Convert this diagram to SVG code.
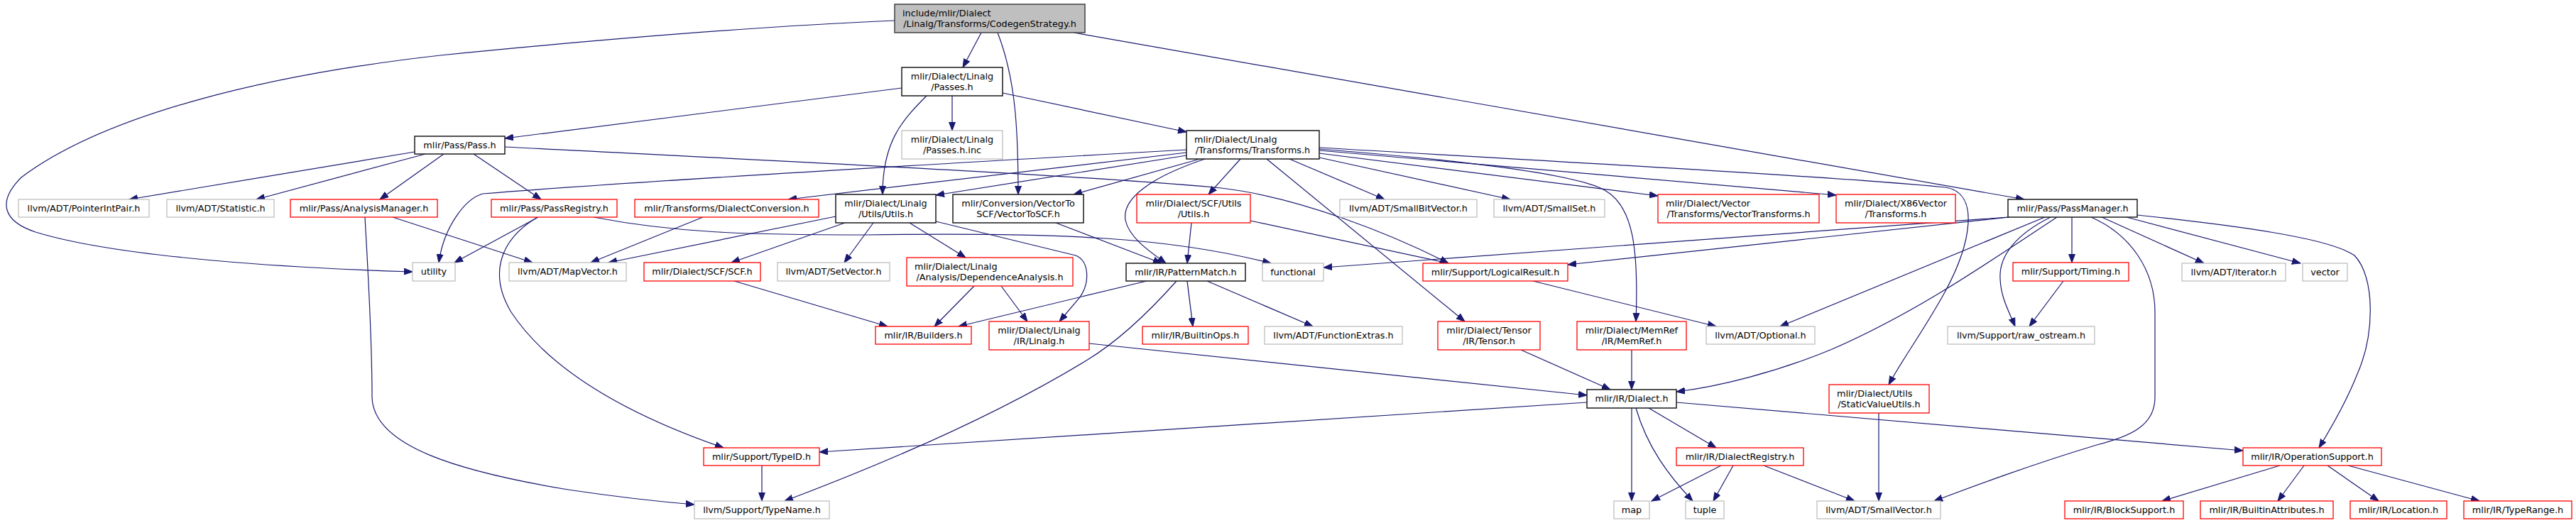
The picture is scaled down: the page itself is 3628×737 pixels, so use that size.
<svg xmlns="http://www.w3.org/2000/svg" width="3628" height="737" viewBox="0 0 3628 737">
<style>
rect{fill:#fff;stroke-width:1.3}
.root rect{fill:#bfbfbf;stroke:#404040;stroke-width:1.5}
.blk rect{stroke:#1a1a1a;stroke-width:1.5}
.red rect{stroke:#ff0000}
.gry rect{stroke:#bfbfbf}
text{font-family:"DejaVu Sans","Noto Sans",sans-serif;font-size:12.8px;fill:#000}
.m{text-anchor:middle}
.s{text-anchor:start}
#edges path{fill:none;stroke:#191970;stroke-width:1.2;marker-end:url(#a)}
</style>
<defs>
<marker id="a" markerWidth="13" markerHeight="10" refX="12" refY="5" orient="auto" markerUnits="userSpaceOnUse"><path d="M0,0.5 L12,5 L0,9.5 z" fill="#191970" stroke="#191970" stroke-width="1"/></marker>
</defs>
<rect x="0" y="0" width="3628" height="737" style="fill:#fff;stroke:none"/>
<g id="edges">
<path d="M1260,29 C1050,38 800,60 620,78 C380,105 150,160 30,250 C-5,285 5,312 50,327 C170,364 420,378 581,383"/>
<path d="M1382,46 L1356,95"/>
<path d="M1405,46 C1430,110 1434,180 1434,274"/>
<path d="M1512,46 L2851,281"/>
<path d="M1270,124 L711,195"/>
<path d="M1341,135 L1341,184"/>
<path d="M1305,135 C1270,170 1243,200 1243,274"/>
<path d="M1412,131 L1671,186"/>
<path d="M584,214 L182,281"/>
<path d="M599,217 L361,281"/>
<path d="M625,217 L535,281"/>
<path d="M667,217 L762,281"/>
<path d="M711,207 C1000,222 1550,248 1720,265 C1830,278 1960,330 2040,371"/>
<path d="M514,306 C518,380 524,470 524,560 C526,630 650,665 800,690 C880,702 930,707 978,711"/>
<path d="M553,306 L750,370"/>
<path d="M758,306 L640,370"/>
<path d="M757,306 C700,340 690,390 720,440 C780,530 900,590 1019,631"/>
<path d="M836,306 C950,328 1050,331 1220,331 C1500,327 1650,335 1790,371"/>
<path d="M1177,305 L857,370"/>
<path d="M1190,314 L1030,370"/>
<path d="M1230,314 L1189,370"/>
<path d="M1281,314 L1360,363"/>
<path d="M1318,312 L1515,360 C1535,368 1535,400 1520,420 L1492,453"/>
<path d="M1671,211 C1300,232 900,255 680,273 C655,280 625,320 618,370"/>
<path d="M1671,215 L1110,281"/>
<path d="M1671,219 L1318,275"/>
<path d="M1690,224 L1512,274"/>
<path d="M1697,224 C1620,250 1580,280 1585,310 C1590,335 1620,355 1642,371"/>
<path d="M1747,224 L1702,274"/>
<path d="M1784,224 L2063,453"/>
<path d="M1816,224 L1950,281"/>
<path d="M1858,222 L2127,281"/>
<path d="M1858,216 L2335,276"/>
<path d="M1858,212 L2586,275"/>
<path d="M1858,208 C2200,228 2600,250 2740,264 C2790,272 2775,345 2740,410 C2710,465 2680,505 2660,542"/>
<path d="M1858,210 C2050,225 2220,245 2260,268 C2300,290 2308,350 2304,453"/>
<path d="M1678,314 L1672,371"/>
<path d="M1761,311 L2040,371"/>
<path d="M990,306 L832,370"/>
<path d="M1487,314 L1636,371"/>
<path d="M1034,396 L1250,460"/>
<path d="M1372,403 L1316,460"/>
<path d="M1410,403 L1447,453"/>
<path d="M1615,396 L1350,460"/>
<path d="M1657,396 C1600,460 1560,490 1530,508 C1420,575 1280,640 1105,706"/>
<path d="M1672,396 L1680,460"/>
<path d="M1700,396 L1849,460"/>
<path d="M1534,484 L2235,557"/>
<path d="M2235,567 L1154,637"/>
<path d="M2142,493 L2268,549"/>
<path d="M2298,493 L2298,549"/>
<path d="M2159,396 L2417,460"/>
<path d="M2298,575 L2298,706"/>
<path d="M2304,575 C2320,630 2350,670 2384,706"/>
<path d="M2322,575 L2417,631"/>
<path d="M2361,567 L3159,635"/>
<path d="M2424,656 L2326,706"/>
<path d="M2441,656 L2413,706"/>
<path d="M2484,656 L2612,706"/>
<path d="M2646,582 L2646,706"/>
<path d="M2828,306 L1864,377"/>
<path d="M2830,306 L2208,373"/>
<path d="M2880,306 L2507,460"/>
<path d="M2897,306 C2800,370 2700,440 2578,493 C2500,525 2420,545 2361,552"/>
<path d="M2888,306 C2840,330 2815,360 2817,393 C2818,420 2830,440 2838,460"/>
<path d="M2918,306 L2918,370"/>
<path d="M2945,306 C3000,330 3035,380 3035,440 L3035,560 C3035,600 3000,615 2953,627 C2860,655 2780,685 2724,706"/>
<path d="M2960,306 L3104,371"/>
<path d="M2995,306 L3240,371"/>
<path d="M3010,303 C3150,318 3280,335 3316,360 C3345,390 3345,470 3320,527 C3305,565 3285,600 3266,631"/>
<path d="M3211,656 L3045,706"/>
<path d="M3245,656 L3208,706"/>
<path d="M3278,656 L3350,706"/>
<path d="M3307,656 L3492,706"/>
<path d="M1073,656 L1073,706"/>
<path d="M2906,396 L2858,460"/>
</g>
<g id="n0" class="root"><rect x="1260" y="6" width="268" height="40"/><text class="s" x="1271" y="22.5">include/mlir/Dialect</text><text class="m" x="1394" y="37.5">/Linalg/Transforms/CodegenStrategy.h</text></g>
<g id="n1" class="blk"><rect x="1270" y="95" width="142" height="40"/><text class="m" x="1341" y="111.5">mlir/Dialect/Linalg</text><text class="m" x="1341" y="126.5">/Passes.h</text></g>
<g id="n2" class="blk"><rect x="584" y="192" width="127" height="25"/><text class="m" x="647.5" y="209">mlir/Pass/Pass.h</text></g>
<g id="n3" class="gry"><rect x="1270" y="184" width="142" height="40"/><text class="m" x="1341" y="200.5">mlir/Dialect/Linalg</text><text class="m" x="1341" y="215.5">/Passes.h.inc</text></g>
<g id="n4" class="blk"><rect x="1671" y="184" width="187" height="40"/><text class="s" x="1682" y="200.5">mlir/Dialect/Linalg</text><text class="m" x="1764.5" y="215.5">/Transforms/Transforms.h</text></g>
<g id="n5" class="gry"><rect x="26" y="281" width="184" height="25"/><text class="m" x="118" y="298">llvm/ADT/PointerIntPair.h</text></g>
<g id="n6" class="gry"><rect x="235" y="281" width="151" height="25"/><text class="m" x="310.5" y="298">llvm/ADT/Statistic.h</text></g>
<g id="n7" class="red"><rect x="409" y="281" width="207" height="25"/><text class="m" x="512.5" y="298">mlir/Pass/AnalysisManager.h</text></g>
<g id="n8" class="red"><rect x="692" y="281" width="177" height="25"/><text class="m" x="780.5" y="298">mlir/Pass/PassRegistry.h</text></g>
<g id="n9" class="red"><rect x="894" y="281" width="259" height="25"/><text class="m" x="1023.5" y="298">mlir/Transforms/DialectConversion.h</text></g>
<g id="n10" class="blk"><rect x="1177" y="274" width="141" height="40"/><text class="m" x="1247.5" y="290.5">mlir/Dialect/Linalg</text><text class="m" x="1247.5" y="305.5">/Utils/Utils.h</text></g>
<g id="n11" class="blk"><rect x="1342" y="274" width="184" height="40"/><text class="m" x="1434" y="290.5">mlir/Conversion/VectorTo</text><text class="m" x="1434" y="305.5">SCF/VectorToSCF.h</text></g>
<g id="n12" class="red"><rect x="1601" y="274" width="160" height="40"/><text class="m" x="1681" y="290.5">mlir/Dialect/SCF/Utils</text><text class="m" x="1681" y="305.5">/Utils.h</text></g>
<g id="n13" class="gry"><rect x="1887" y="281" width="193" height="25"/><text class="m" x="1983.5" y="298">llvm/ADT/SmallBitVector.h</text></g>
<g id="n14" class="gry"><rect x="2104" y="281" width="156" height="25"/><text class="m" x="2182" y="298">llvm/ADT/SmallSet.h</text></g>
<g id="n15" class="red"><rect x="2335" y="274" width="227" height="40"/><text class="s" x="2346" y="290.5">mlir/Dialect/Vector</text><text class="m" x="2448.5" y="305.5">/Transforms/VectorTransforms.h</text></g>
<g id="n16" class="red"><rect x="2586" y="274" width="168" height="40"/><text class="m" x="2670" y="290.5">mlir/Dialect/X86Vector</text><text class="m" x="2670" y="305.5">/Transforms.h</text></g>
<g id="n17" class="blk"><rect x="2828" y="281" width="182" height="25"/><text class="m" x="2919" y="298">mlir/Pass/PassManager.h</text></g>
<g id="n18" class="gry"><rect x="581" y="370" width="60" height="26"/><text class="m" x="611" y="387">utility</text></g>
<g id="n19" class="gry"><rect x="717" y="370" width="165" height="26"/><text class="m" x="799.5" y="387">llvm/ADT/MapVector.h</text></g>
<g id="n20" class="red"><rect x="907" y="370" width="164" height="26"/><text class="m" x="989" y="387">mlir/Dialect/SCF/SCF.h</text></g>
<g id="n21" class="gry"><rect x="1095" y="370" width="158" height="26"/><text class="m" x="1174" y="387">llvm/ADT/SetVector.h</text></g>
<g id="n22" class="red"><rect x="1277" y="363" width="234" height="40"/><text class="s" x="1288" y="379.5">mlir/Dialect/Linalg</text><text class="m" x="1394" y="394.5">/Analysis/DependenceAnalysis.h</text></g>
<g id="n23" class="blk"><rect x="1586" y="371" width="168" height="25"/><text class="m" x="1670" y="388">mlir/IR/PatternMatch.h</text></g>
<g id="n24" class="gry"><rect x="1778" y="371" width="86" height="25"/><text class="m" x="1821" y="388">functional</text></g>
<g id="n25" class="red"><rect x="2004" y="371" width="204" height="25"/><text class="m" x="2106" y="388">mlir/Support/LogicalResult.h</text></g>
<g id="n26" class="red"><rect x="2835" y="370" width="163" height="26"/><text class="m" x="2916.5" y="387">mlir/Support/Timing.h</text></g>
<g id="n27" class="gry"><rect x="3073" y="371" width="146" height="25"/><text class="m" x="3146" y="388">llvm/ADT/iterator.h</text></g>
<g id="n28" class="gry"><rect x="3243" y="371" width="63" height="25"/><text class="m" x="3274.5" y="388">vector</text></g>
<g id="n29" class="red"><rect x="1233" y="460" width="135" height="25"/><text class="m" x="1300.5" y="477">mlir/IR/Builders.h</text></g>
<g id="n30" class="red"><rect x="1393" y="453" width="141" height="40"/><text class="m" x="1463.5" y="469.5">mlir/Dialect/Linalg</text><text class="m" x="1463.5" y="484.5">/IR/Linalg.h</text></g>
<g id="n31" class="red"><rect x="1609" y="460" width="149" height="25"/><text class="m" x="1683.5" y="477">mlir/IR/BuiltinOps.h</text></g>
<g id="n32" class="gry"><rect x="1781" y="460" width="194" height="25"/><text class="m" x="1878" y="477">llvm/ADT/FunctionExtras.h</text></g>
<g id="n33" class="red"><rect x="2025" y="453" width="144" height="40"/><text class="m" x="2097" y="469.5">mlir/Dialect/Tensor</text><text class="m" x="2097" y="484.5">/IR/Tensor.h</text></g>
<g id="n34" class="red"><rect x="2221" y="453" width="154" height="40"/><text class="m" x="2298" y="469.5">mlir/Dialect/MemRef</text><text class="m" x="2298" y="484.5">/IR/MemRef.h</text></g>
<g id="n35" class="gry"><rect x="2403" y="460" width="153" height="25"/><text class="m" x="2479.5" y="477">llvm/ADT/Optional.h</text></g>
<g id="n36" class="gry"><rect x="2743" y="460" width="207" height="25"/><text class="m" x="2846.5" y="477">llvm/Support/raw_ostream.h</text></g>
<g id="n37" class="red"><rect x="2576" y="542" width="141" height="40"/><text class="s" x="2587" y="558.5">mlir/Dialect/Utils</text><text class="m" x="2646.5" y="573.5">/StaticValueUtils.h</text></g>
<g id="n38" class="blk"><rect x="2235" y="549" width="126" height="26"/><text class="m" x="2298" y="566">mlir/IR/Dialect.h</text></g>
<g id="n39" class="red"><rect x="991" y="631" width="163" height="25"/><text class="m" x="1072.5" y="648">mlir/Support/TypeID.h</text></g>
<g id="n40" class="red"><rect x="2361" y="631" width="179" height="25"/><text class="m" x="2450.5" y="648">mlir/IR/DialectRegistry.h</text></g>
<g id="n41" class="red"><rect x="3159" y="631" width="195" height="25"/><text class="m" x="3256.5" y="648">mlir/IR/OperationSupport.h</text></g>
<g id="n42" class="gry"><rect x="978" y="706" width="190" height="25"/><text class="m" x="1073" y="723">llvm/Support/TypeName.h</text></g>
<g id="n43" class="gry"><rect x="2273" y="706" width="50" height="25"/><text class="m" x="2298" y="723">map</text></g>
<g id="n44" class="gry"><rect x="2374" y="706" width="54" height="25"/><text class="m" x="2401" y="723">tuple</text></g>
<g id="n45" class="gry"><rect x="2559" y="706" width="174" height="25"/><text class="m" x="2646" y="723">llvm/ADT/SmallVector.h</text></g>
<g id="n46" class="red"><rect x="2908" y="706" width="167" height="25"/><text class="m" x="2991.5" y="723">mlir/IR/BlockSupport.h</text></g>
<g id="n47" class="red"><rect x="3099" y="706" width="187" height="25"/><text class="m" x="3192.5" y="723">mlir/IR/BuiltinAttributes.h</text></g>
<g id="n48" class="red"><rect x="3310" y="706" width="136" height="25"/><text class="m" x="3378" y="723">mlir/IR/Location.h</text></g>
<g id="n49" class="red"><rect x="3470" y="706" width="152" height="25"/><text class="m" x="3546" y="723">mlir/IR/TypeRange.h</text></g>
</svg>
